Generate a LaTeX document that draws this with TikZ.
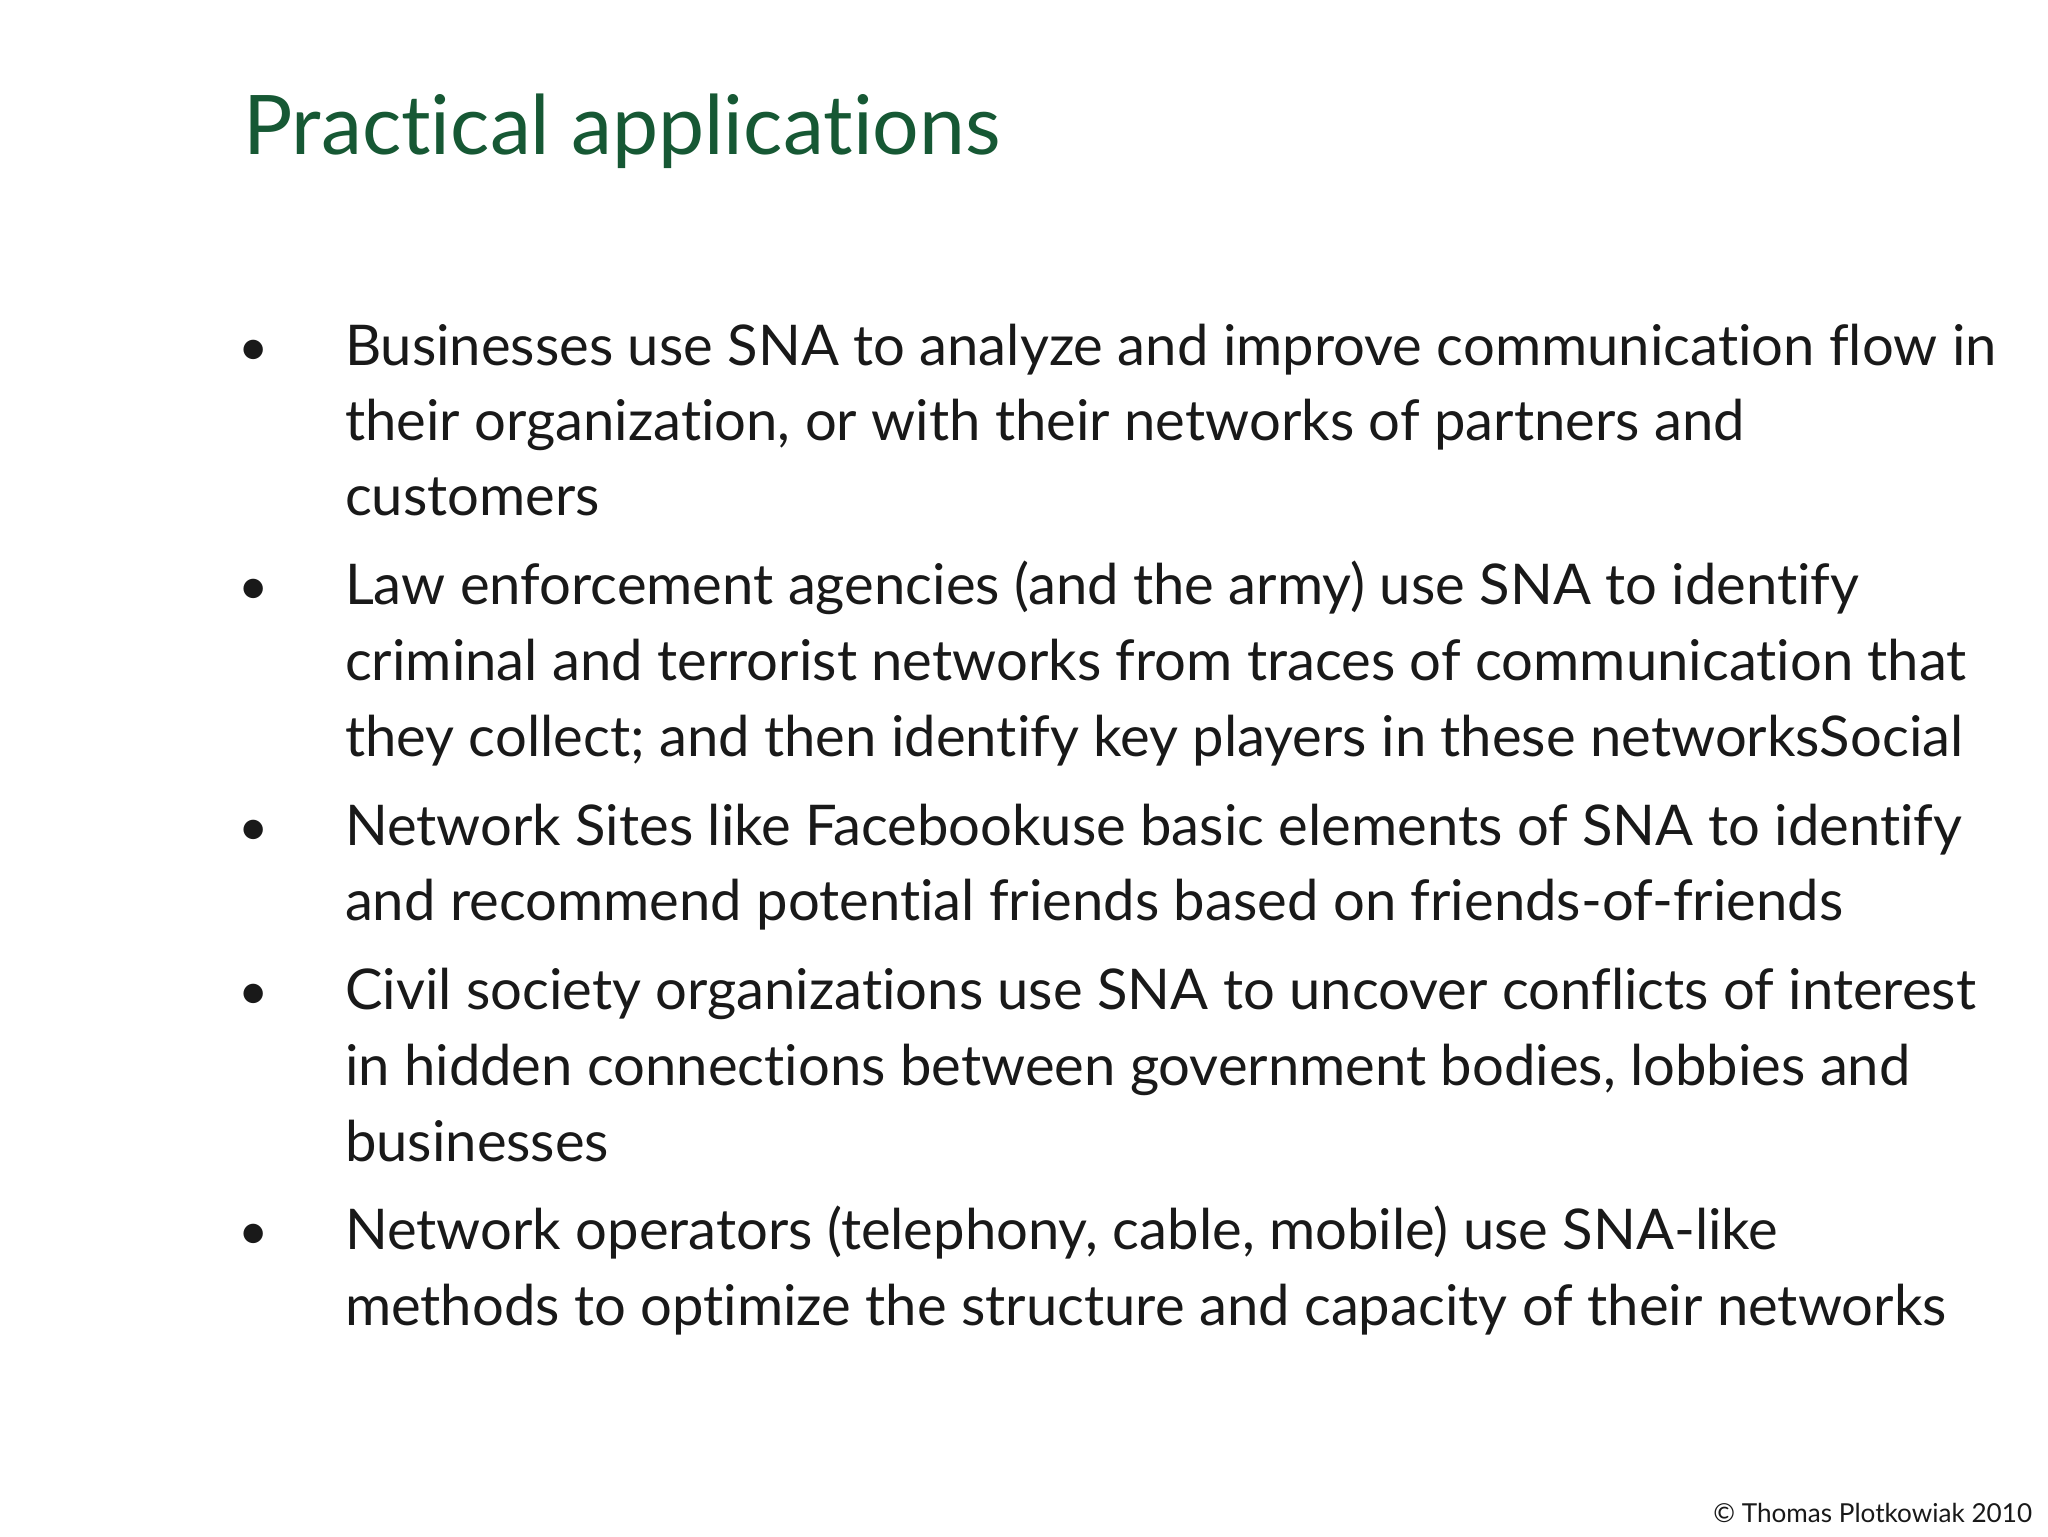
\documentclass[tikz,border=0pt]{standalone}
\usepackage{fontspec}
\setmainfont{Lato}[RawFeature={-liga;-dlig}]
\definecolor{titlegreen}{RGB}{22,88,52}
\definecolor{bodytext}{RGB}{25,25,25}
\tikzset{
 bodyline/.style={anchor=base west,inner sep=0pt,text=bodytext,font=\fontsize{43}{58}\selectfont},
 bulletdot/.style={anchor=base,inner sep=0pt,text=bodytext,font=\fontsize{40}{58}\selectfont},
}
\begin{document}
\begin{tikzpicture}[x=1pt,y=-1pt]
\useasboundingbox (0,0) rectangle (1568,1176);
\fill[white] (0,0) rectangle (1568,1176);
\node[anchor=base west,inner sep=0pt,text=titlegreen,font=\fontsize{63}{70}\selectfont] (title) at (186,118) {Practical applications};
\foreach \y/\n in {280/b1,463/b2,647/b3,773/b4,957/b5}{
  \node[bulletdot] (\n) at (194,\y) {•};
}
\foreach \y/\n/\t in {
 280/l1/{Businesses use SNA to analyze and improve communication flow in},
 337/l2/{their organization, or with their networks of partners and},
 395/l3/{customers},
 463/l4/{Law enforcement agencies (and the army) use SNA to identify},
 521/l5/{criminal and terrorist networks from traces of communication that},
 579/l6/{they collect; and then identify key players in these networksSocial},
 647/l7/{Network Sites like Facebookuse basic elements of SNA to identify},
 705/l8/{and recommend potential friends based on friends-of-friends},
 773/l9/{Civil society organizations use SNA to uncover conflicts of interest},
 831/l10/{in hidden connections between government bodies, lobbies and},
 889/l11/{businesses},
 957/l12/{Network operators (telephony, cable, mobile) use SNA-like},
 1015/l13/{methods to optimize the structure and capacity of their networks}}{
  \node[bodyline] (\n) at (264,\y) {\t};
}
\node[anchor=base east,inner sep=0pt,text=bodytext,font=\fontsize{20}{24}\selectfont] (copy) at (1556,1166) {© Thomas Plotkowiak 2010};
\end{tikzpicture}
\end{document}
